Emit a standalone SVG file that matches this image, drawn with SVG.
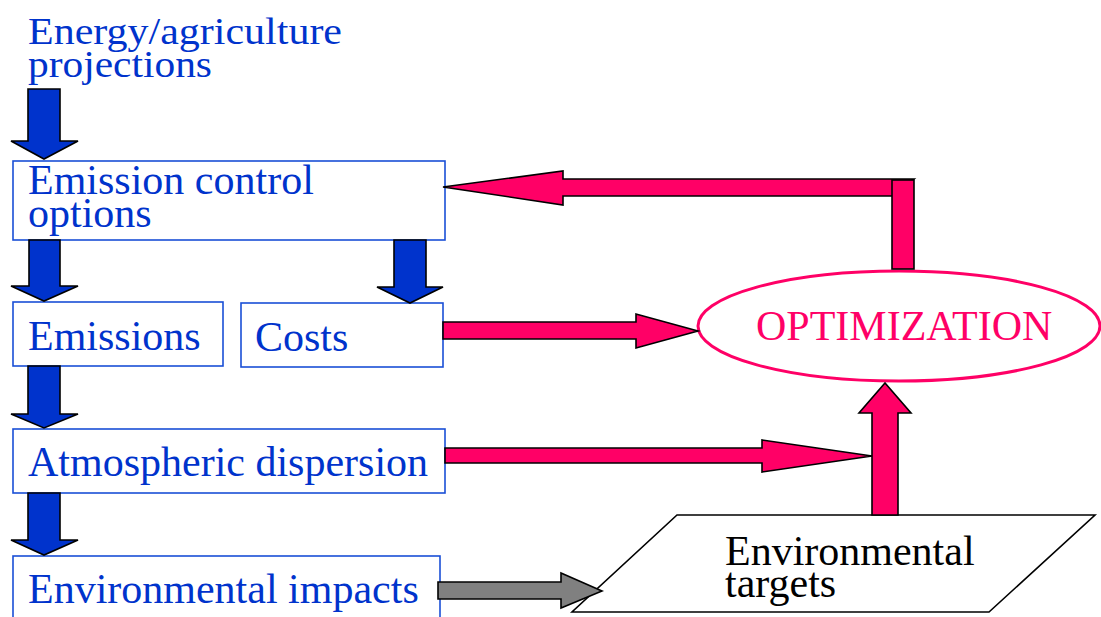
<svg xmlns="http://www.w3.org/2000/svg" width="1101" height="617" viewBox="0 0 1101 617">
  <defs>
    <!-- shared block-arrow shapes -->
    <polygon id="down-arrow" points="0,0 32,0 32,47 50,47 16,62 -17,47 0,47"/>
  </defs>
  <rect width="1101" height="617" fill="#ffffff"/>

  <g id="projections" font-family="Liberation Serif" font-size="38" fill="#0033cc">
    <text x="28" y="44" textLength="314" lengthAdjust="spacingAndGlyphs">Energy/agriculture</text>
    <text x="28" y="77" textLength="184" lengthAdjust="spacingAndGlyphs">projections</text>
  </g>

  <g fill="#ffffff" stroke="#1a4fd6" stroke-width="1.6">
    <rect id="control-options-box" x="13" y="161" width="432" height="79"/>
    <rect id="emissions-box" x="13" y="302" width="210" height="64"/>
    <rect id="costs-box" x="241" y="303" width="202" height="64"/>
    <rect id="dispersion-box" x="13" y="429" width="432" height="64"/>
    <rect id="impacts-box" x="13" y="556" width="427" height="72"/>
  </g>

  <g font-family="Liberation Serif" font-size="42" fill="#0033cc">
    <g id="control-options">
      <text x="28" y="194">Emission control</text>
      <text x="28" y="227">options</text>
    </g>
    <g id="emissions"><text x="28" y="350">Emissions</text></g>
    <g id="costs"><text x="255" y="351">Costs</text></g>
    <g id="dispersion"><text x="28" y="476">Atmospheric dispersion</text></g>
    <g id="impacts"><text x="28" y="603">Environmental impacts</text></g>
  </g>

  <g id="targets">
    <polygon points="677,515 1095,515 989,612 572,612" fill="#ffffff" stroke="#000000" stroke-width="1.6"/>
    <text x="725" y="565" font-family="Liberation Serif" font-size="42" fill="#000000">Environmental</text>
    <text x="725" y="597" font-family="Liberation Serif" font-size="42" fill="#000000">targets</text>
  </g>

  <g id="optimization">
    <ellipse cx="899" cy="326" rx="201" ry="55" fill="#ffffff" stroke="#ff0066" stroke-width="3"/>
    <text x="756" y="340" font-family="Liberation Serif" font-size="42" fill="#ff0066">OPTIMIZATION</text>
  </g>

  <g id="connectors" stroke="#000000" stroke-width="1.6" stroke-linejoin="miter">
    <!-- downward block arrows -->
    <g fill="#0033cc">
      <polygon points="28,89 60,89 60,141 78,141 44,159 11,141 28,141"/>
      <polygon points="29,240 60,240 60,286 78,286 44,301 11,286 29,286"/>
      <polygon points="394,240 426,240 426,287 443,287 410,303 377,287 394,287"/>
      <polygon points="28,366 60,366 60,414 78,414 44,428 11,414 28,414"/>
      <polygon points="28,493 60,493 60,540 78,540 44,555 11,540 28,540"/>
    </g>
    <g fill="#ff0066">
      <!-- costs to optimization -->
      <polygon points="443,322 636,322 636,314 698,331 636,348 636,339 443,339"/>
      <!-- dispersion into the targets link -->
      <polygon points="445,448 762,448 762,440 872,456 762,472 762,463 445,463"/>
      <!-- targets up to optimization -->
      <polygon points="872,515 872,413 859,413 885,383 911,413 898,413 898,515"/>
      <!-- feedback loop back to control options -->
      <polygon points="914,179 563,179 563,171 443,187 563,205 563,196 892,196"/>
      <rect x="892" y="180" width="22" height="89"/>
    </g>
    <!-- impacts to targets -->
    <polygon fill="#808080" points="438,582 561,582 561,573 602,591 561,608 561,599 438,599"/>
  </g>
</svg>
